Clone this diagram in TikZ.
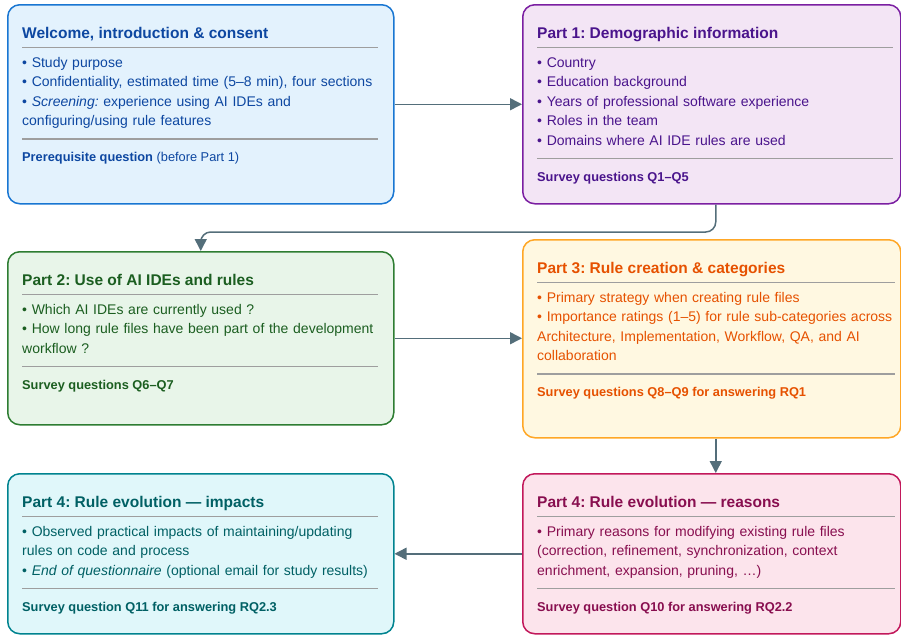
\documentclass[tikz,border=0pt]{standalone}
\usepackage{fontspec}
\setmainfont{Liberation Sans}
\frenchspacing
\usetikzlibrary{arrows.meta}
\usetikzlibrary{calc}
\definecolor{blueline}{HTML}{1976D2}
\definecolor{bluefill}{HTML}{E3F2FD}
\definecolor{bluetext}{HTML}{0D47A1}
\definecolor{purpleline}{HTML}{7B1FA2}
\definecolor{purplefill}{HTML}{F3E5F5}
\definecolor{purpletext}{HTML}{4A148C}
\definecolor{greenline}{HTML}{2E7D32}
\definecolor{greenfill}{HTML}{E8F5E9}
\definecolor{greentext}{HTML}{1B5E20}
\definecolor{orangeline}{HTML}{FFA726}
\definecolor{orangefill}{HTML}{FFF8E1}
\definecolor{orangetext}{HTML}{E65100}
\definecolor{tealline}{HTML}{00838F}
\definecolor{tealfill}{HTML}{E0F7FA}
\definecolor{tealtext}{HTML}{006064}
\definecolor{pinkline}{HTML}{C2185B}
\definecolor{pinkfill}{HTML}{FCE4EC}
\definecolor{pinktext}{HTML}{880E4F}
\definecolor{rulegrey}{HTML}{9E9E9E}
\definecolor{arrowgrey}{HTML}{546E7A}

\tikzset{
  panel/.style={rectangle, rounded corners=12pt, line width=1.5pt, draw=#1line, fill=#1fill,
    anchor=north west, inner sep=0pt},
  head/.style={anchor=base west, inner sep=0pt, text=#1text,
    font=\fontsize{15.5pt}{18pt}\selectfont\bfseries},
  body/.style={anchor=north west, inner sep=0pt, text=#1text, text width=368pt, align=left,
    font=\fontsize{14pt}{19.5pt}\selectfont},
  foot/.style={anchor=base west, inner sep=0pt, text=#1text,
    font=\fontsize{12.8pt}{15pt}\selectfont},
  sep/.style={draw=rulegrey, line width=1.5pt},
  flow/.style={draw=arrowgrey, line width=1.5pt, -{Triangle[length=12pt,width=12pt]}}
}

\begin{document}
\begin{tikzpicture}[x=1pt, y=-1pt]
  \useasboundingbox (0,0) rectangle (901,635);

  % boxes
  \node[panel=blue, minimum width=386pt, minimum height=199pt] (welcome) at (7,4) {};
  \node[panel=purple, minimum width=378pt, minimum height=199pt] (part1) at (522,4) {};
  \node[panel=green, minimum width=386pt, minimum height=173pt] (part2) at (7,251) {};
  \node[panel=orange, minimum width=378pt, minimum height=198pt] (part3) at (522,239) {};
  \node[panel=teal, minimum width=386pt, minimum height=160pt] (impacts) at (7,473) {};
  \node[panel=pink, minimum width=378pt, minimum height=160pt] (reasons) at (522,473) {};

  % welcome
  \node[head=blue] (welcome-t) at ([shift={(15,34)}]welcome.north west) {Welcome, introduction \& consent};
  \draw[sep] ([shift={(15,43.5)}]welcome.north west) -- ++(356,0);
  \node[body=blue] (welcome-b) at ([shift={(15,49.35)}]welcome.north west)
    {\strut• Study purpose\\
     • Confidentiality, estimated time (5–8 min), four sections\\
     • \textit{Screening:} experience using AI IDEs and\\
     configuring/using rule features\strut};
  \draw[sep] ([yshift=-7pt]welcome-b.south west) -- ++(356,0);
  \node[foot=blue] (welcome-f) at ([yshift=-30pt]welcome-b.south west)
    {\textbf{Prerequisite question} (before Part 1)};

  % part 1
  \node[head=purple] (part1-t) at ([shift={(15,34)}]part1.north west) {Part 1: Demographic information};
  \draw[sep] ([shift={(15,43.5)}]part1.north west) -- ++(356,0);
  \node[body=purple] (part1-b) at ([shift={(15,49.35)}]part1.north west)
    {\strut• Country\\
     • Education background\\
     • Years of professional software experience\\
     • Roles in the team\\
     • Domains where AI IDE rules are used\strut};
  \draw[sep] ([yshift=-7pt]part1-b.south west) -- ++(356,0);
  \node[foot=purple] (part1-f) at ([yshift=-30pt]part1-b.south west)
    {\textbf{Survey questions Q1–Q5}};

  % part 2
  \node[head=green] (part2-t) at ([shift={(15,34)}]part2.north west) {Part 2: Use of AI IDEs and rules};
  \draw[sep] ([shift={(15,43.5)}]part2.north west) -- ++(356,0);
  \node[body=green] (part2-b) at ([shift={(15,49.35)}]part2.north west)
    {\strut• Which AI IDEs are currently used ?\\
     • How long rule files have been part of the development\\
     workflow ?\strut};
  \draw[sep] ([yshift=-7pt]part2-b.south west) -- ++(356,0);
  \node[foot=green] (part2-f) at ([yshift=-30pt]part2-b.south west)
    {\textbf{Survey questions Q6–Q7}};

  % part 3
  \node[head=orange] (part3-t) at ([shift={(15,34)}]part3.north west) {Part 3: Rule creation \& categories};
  \draw[sep] ([shift={(15,43.5)}]part3.north west) -- ++(358,0);
  \node[body=orange] (part3-b) at ([shift={(15,49.35)}]part3.north west)
    {\strut• Primary strategy when creating rule files\\
     • Importance ratings (1–5) for rule sub-categories across\\
     Architecture, Implementation, Workflow, QA, and AI\\
     collaboration\strut};
  \draw[sep] ([yshift=-7pt]part3-b.south west) -- ++(358,0);
  \node[foot=orange] (part3-f) at ([yshift=-30pt]part3-b.south west)
    {\textbf{Survey questions Q8–Q9 for answering RQ1}};

  % part 4, impacts
  \node[head=teal] (impacts-t) at ([shift={(15,34)}]impacts.north west) {Part 4: Rule evolution — impacts};
  \draw[sep] ([shift={(15,43.5)}]impacts.north west) -- ++(356,0);
  \node[body=teal] (impacts-b) at ([shift={(15,49.35)}]impacts.north west)
    {\strut• Observed practical impacts of maintaining/updating\\
     rules on code and process\\
     • \textit{End of questionnaire} (optional email for study results)\strut};
  \draw[sep] ([yshift=-7pt]impacts-b.south west) -- ++(356,0);
  \node[foot=teal] (impacts-f) at ([yshift=-30pt]impacts-b.south west)
    {\textbf{Survey question Q11 for answering RQ2.3}};

  % part 4, reasons
  \node[head=pink] (reasons-t) at ([shift={(15,34)}]reasons.north west) {Part 4: Rule evolution — reasons};
  \draw[sep] ([shift={(15,43.5)}]reasons.north west) -- ++(358,0);
  \node[body=pink] (reasons-b) at ([shift={(15,49.35)}]reasons.north west)
    {\strut• Primary reasons for modifying existing rule files\\
     (correction, refinement, synchronization, context\\
     enrichment, expansion, pruning, …)\strut};
  \draw[sep] ([yshift=-7pt]reasons-b.south west) -- ++(358,0);
  \node[foot=pink] (reasons-f) at ([yshift=-30pt]reasons-b.south west)
    {\textbf{Survey question Q10 for answering RQ2.2}};

  % flow
  \draw[flow] (welcome) -- (part1);
  \draw[flow, rounded corners=10pt] ([xshift=4pt]part1.south) -- ++(0,27.5) -| (part2.north);
  \draw[flow] (part2.east) -- (part2.east -| part3.west);
  \draw[flow] ([xshift=4pt]part3.south) -- ([xshift=4pt]reasons.north);
  \draw[flow] (reasons) -- (impacts);
\end{tikzpicture}
\end{document}
